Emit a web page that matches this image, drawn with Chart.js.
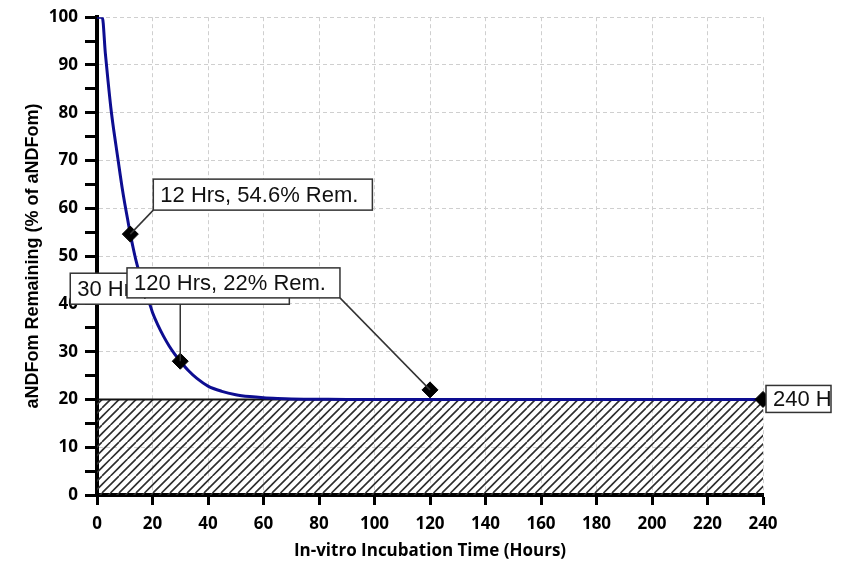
<!DOCTYPE html>
<html>
<head>
<meta charset="utf-8">
<script src="https://cdn.jsdelivr.net/npm/chart.js@4.4.1/dist/chart.umd.min.js"></script>
<style>
  html, body { margin: 0; padding: 0; background: #fff; }
  canvas { display: block; }
</style>
</head>
<body>
<canvas id="chart" width="851" height="563"></canvas>
<script>
// Digestion curve (hours -> % aNDFom remaining)
const hours = [0, 1.9, 3, 4, 5, 6, 7, 8, 9, 10, 11, 12, 13, 14, 15, 16, 17, 18, 19, 20, 22, 24, 26, 28, 30, 33, 36, 40, 45, 50, 55, 60, 65, 70, 80, 90, 100, 240];
const remaining = [100, 100, 92.5, 86.5, 81, 76.5, 72.5, 68.5, 64.5, 61, 57.8, 54.6, 51.8, 49.2, 47, 45, 43.2, 41.5, 40, 38.2, 35.5, 33.2, 31.2, 29.5, 28, 26, 24.4, 22.8, 21.7, 21, 20.6, 20.35, 20.2, 20.1, 20.05, 20, 20, 20];

// Marked time points
const markerHours = [12, 30, 120, 240];
const markerRemaining = [54.6, 28, 22, 20];
const markerLabels = ["12 Hrs, 54.6% Rem.", "30 Hrs, 27.9% Rem.", "120 Hrs, 22% Rem.", "240 Hrs, 20% Rem."];

// Indigestible fraction (hatched band)
const floorHours = [0, 240];
const floorValues = [20, 20];

const xTitle = "In-vitro Incubation Time (Hours)";
const yTitle = "aNDFom Remaining (% of aNDFom)";

function hatch() {
  const s = 8.5;
  const c = document.createElement("canvas");
  c.width = 17; c.height = 17;
  const g = c.getContext("2d");
  g.strokeStyle = "#2e2e2e";
  g.lineWidth = 1.6;
  g.beginPath();
  for (let k = -2; k <= 4; k++) {
    g.moveTo(k * s - 17, 17); g.lineTo(k * s, 0);
  }
  g.stroke();
  return g.createPattern(c, "repeat");
}

const callouts = {
  id: "callouts",
  afterDatasetsDraw(chart, args, opts) {
    const { ctx } = chart;
    const xs = chart.scales.x, ys = chart.scales.y;
    ctx.save();
    ctx.font = opts.font;
    const boxes = markerLabels.map((text, i) => {
      const px = xs.getPixelForValue(markerHours[i]);
      const py = ys.getPixelForValue(markerRemaining[i]);
      const p = opts.place[i];
      const left = px + p.dx;
      let w = ctx.measureText(text).width + opts.padLeft + opts.padRight;
      if (p.maxRight) w = Math.min(w, p.maxRight - left);
      return { text, px, py, left, top: py + p.dy, w, h: p.h, leader: p.leader };
    });

    ctx.strokeStyle = opts.lineColor;
    ctx.lineWidth = 1.5;
    boxes.forEach((b) => {
      let ex, ey;
      if (b.leader === "bl") { ex = b.left; ey = b.top + b.h; }
      else if (b.leader === "br") { ex = b.left + b.w; ey = b.top + b.h; }
      else if (b.leader === "below") { ex = b.px; ey = b.top + b.h; }
      else return;
      ctx.beginPath();
      ctx.moveTo(ex, ey);
      ctx.lineTo(b.px, b.py);
      ctx.stroke();
    });

    opts.drawOrder.forEach((i) => {
      const b = boxes[i];
      ctx.save();
      ctx.fillStyle = "#fff";
      ctx.fillRect(b.left, b.top, b.w, b.h);
      ctx.beginPath();
      ctx.rect(b.left, b.top, b.w, b.h);
      ctx.clip();
      ctx.fillStyle = "#111";
      ctx.textBaseline = "middle";
      ctx.textAlign = "left";
      ctx.fillText(b.text, b.left + opts.padLeft, b.top + b.h / 2 + 1);
      ctx.restore();
      ctx.strokeStyle = opts.lineColor;
      ctx.lineWidth = 1.5;
      ctx.strokeRect(b.left, b.top, b.w, b.h);
    });
    ctx.restore();
  },
};

const tickFont = { family: "'Open Sans', sans-serif", size: 17, weight: "bold" };

new Chart(document.getElementById("chart"), {
  type: "scatter",
  data: {
    datasets: [
      {
        label: "Markers",
        data: markerHours.map((h, i) => ({ x: h, y: markerRemaining[i] })),
        pointStyle: "rectRot",
        pointRadius: 8,
        backgroundColor: "#000",
        borderColor: "#000",
        borderWidth: 1,
        showLine: false,
        order: 0,
        clip: false,
      },
      {
        label: "Curve",
        data: hours.map((h, i) => ({ x: h, y: remaining[i] })),
        showLine: true,
        borderColor: "#0d0d91",
        borderWidth: 3,
        pointRadius: 0,
        cubicInterpolationMode: "monotone",
        fill: false,
        order: 1,
      },
      {
        label: "Indigestible",
        data: floorHours.map((h, i) => ({ x: h, y: floorValues[i] })),
        showLine: true,
        borderColor: "#111",
        borderWidth: 2,
        pointRadius: 0,
        backgroundColor: hatch(),
        fill: "origin",
        order: 2,
      },
    ],
  },
  options: {
    responsive: false,
    animation: false,
    devicePixelRatio: 1,
    layout: { padding: { top: 16, right: 88, left: 0, bottom: 0 } },
    plugins: {
      legend: { display: false },
      tooltip: { enabled: false },
      callouts: {
        font: "22px 'Liberation Sans', Arial, sans-serif",
        lineColor: "#333",
        padLeft: 7,
        padRight: 14,
        drawOrder: [1, 2, 0, 3],
        place: [
          { dx: 23, dy: -55, h: 31, leader: "bl" },
          { dx: -110, dy: -88, h: 31, leader: "below" },
          { dx: -303, dy: -122, h: 30, leader: "br" },
          { dx: 3, dy: -14, h: 27, leader: "none", maxRight: 831 },
        ],
      },
    },
    scales: {
      x: {
        type: "linear",
        min: 0,
        max: 240,
        ticks: { stepSize: 20, color: "#000", font: tickFont, padding: 9, maxRotation: 0 },
        grid: { color: "#cfcfcf", lineWidth: 1, tickColor: "#000", tickWidth: 3, tickLength: 10 },
        border: { color: "#000", width: 4, dash: [4, 3] },
        title: {
          display: true,
          text: xTitle,
          color: "#000",
          font: { family: "'Open Sans', sans-serif", size: 17, weight: "bold" },
          padding: { top: 0, bottom: 2 },
        },
        afterFit: (s) => { s.height = 68; },
      },
      y: {
        type: "linear",
        min: 0,
        max: 100,
        ticks: {
          stepSize: 5,
          color: "#000",
          font: tickFont,
          padding: 7,
          callback: (v) => (v % 10 === 0 ? v : ""),
        },
        grid: {
          color: (c) => (c.tick && c.tick.value % 10 === 0 ? "#cfcfcf" : "rgba(0,0,0,0)"),
          lineWidth: 1,
          tickColor: "#000",
          tickWidth: 3,
          tickLength: 12,
        },
        border: { color: "#000", width: 4, dash: [4, 3] },
        title: {
          display: true,
          text: yTitle,
          color: "#000",
          font: { family: "'Liberation Sans', Arial, sans-serif", size: 18, weight: "bold" },
          padding: { top: 22, bottom: 0 },
        },
        afterFit: (s) => { s.width = 97; },
      },
    },
  },
  plugins: [callouts],
});
</script>
</body>
</html>
